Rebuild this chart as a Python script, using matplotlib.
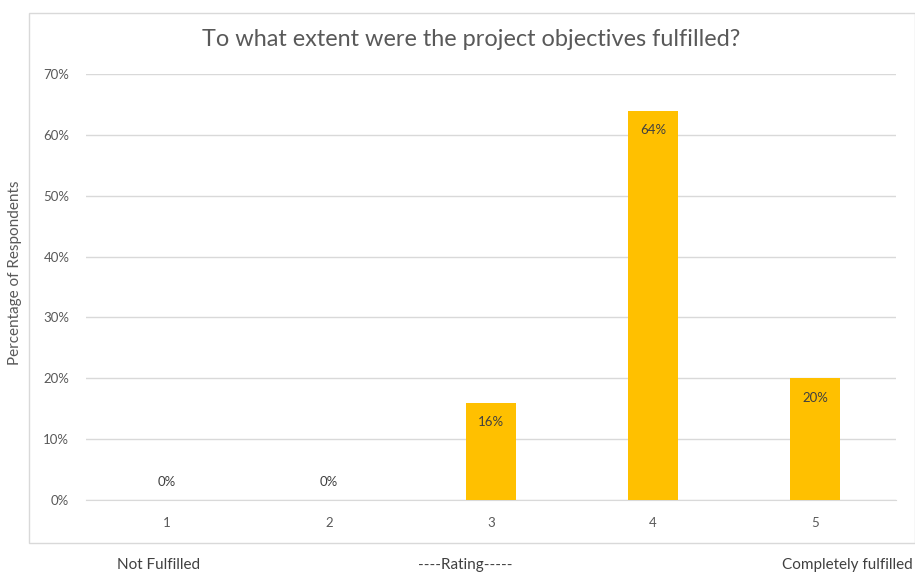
import matplotlib
matplotlib.use("Agg")
import matplotlib.pyplot as plt
from matplotlib.patches import Rectangle
from matplotlib.ticker import PercentFormatter

# ----------------------------------------------------------------------------
#  DATA
# ----------------------------------------------------------------------------
ratings = ['1', '2', '3', '4', '5']
percent = [0, 0, 16, 64, 20]
y_ticks = [0, 10, 20, 30, 40, 50, 60, 70]

title_text = 'To what extent were the project objectives fulfilled?'
ylabel_text = 'Percentage of Respondents'
bottom_left = 'Not Fulfilled'
bottom_mid = '----Rating-----'
bottom_right = 'Completely fulfilled'

# ----------------------------------------------------------------------------
#  STYLE
# ----------------------------------------------------------------------------
plt.rcParams['font.family'] = ['Lato', 'DejaVu Sans']
bar_color = '#FFC000'
text_color = '#595959'
grid_color = '#D9D9D9'

fig = plt.figure(figsize=(9.15, 5.73), dpi=100)
W, H = 915, 573

# axes placed in pixel terms: x 86..896, y 74..500
ax = fig.add_axes([86 / W, 1 - 500 / H, (896 - 86) / W, (500 - 74) / H])

x = range(len(ratings))
ax.bar(x, percent, width=0.31, color=bar_color, zorder=3)

ax.set_xlim(-0.5, len(ratings) - 0.5)
ax.set_ylim(0, 70)
ax.set_yticks(y_ticks)
ax.yaxis.set_major_formatter(PercentFormatter(decimals=0))
ax.set_xticks(list(x))
ax.set_xticklabels(ratings)
ax.tick_params(axis='both', length=0, labelsize=9.5, colors=text_color)
ax.tick_params(axis='y', pad=12)
ax.tick_params(axis='x', pad=12)
ax.grid(axis='y', color=grid_color, linewidth=1, zorder=0)
for side in ['top', 'right', 'left']:
    ax.spines[side].set_visible(False)
ax.spines['bottom'].set_color(grid_color)

# data labels (inside end, zero bars sit above baseline)
for xi, v in zip(x, percent):
    offset = -14 if v > 0 else 13
    ax.annotate(f'{v}%', (xi, v), xytext=(0, offset), textcoords='offset points',
                ha='center', va='center', fontsize=9.5, color='#404040', zorder=4)

# chart border
fig.patches.append(Rectangle((29 / W, 1 - 543 / H), (W - 29) / W, (543 - 13) / H,
                             transform=fig.transFigure, fill=False,
                             edgecolor=grid_color, linewidth=1))

fig.text(471 / W, 1 - 40 / H, title_text, ha='center', va='center',
         fontsize=16.9, color=text_color)
fig.text(15 / W, 1 - 273 / H, ylabel_text, ha='center', va='center',
         rotation=90, fontsize=11, color=text_color)
fig.text(159 / W, 1 - 565 / H, bottom_left, ha='center', va='center',
         fontsize=11, color='#404040')
fig.text(465 / W, 1 - 565 / H, bottom_mid, ha='center', va='center',
         fontsize=11, color='#404040')
fig.text(913 / W, 1 - 565 / H, bottom_right, ha='right', va='center',
         fontsize=11, color='#404040')

fig.savefig('out.png', dpi=100)
